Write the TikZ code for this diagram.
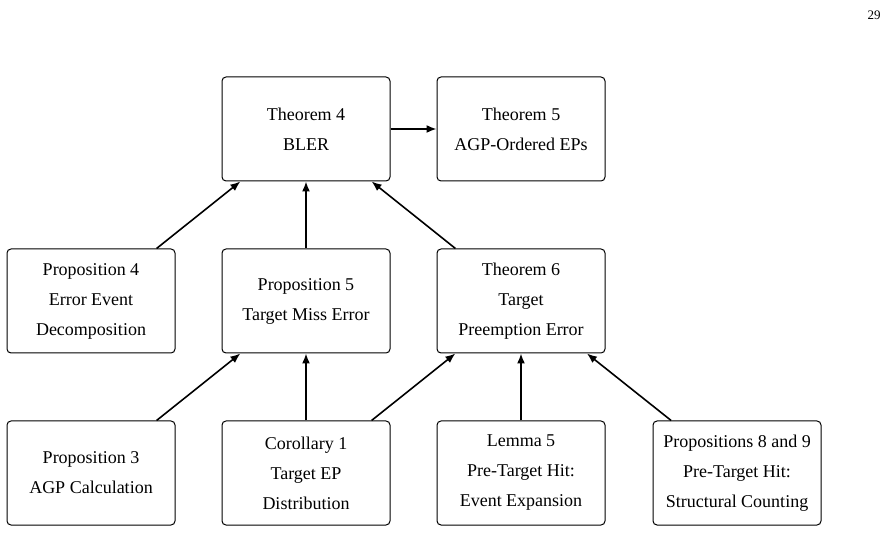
\documentclass[tikz,border=0pt]{standalone}
\usepackage{fontspec}
\setmainfont{Liberation Serif}
\usetikzlibrary{arrows.meta}
\begin{document}
\begin{tikzpicture}[x=0.5pt,y=-0.5pt,
  box/.style={draw, line width=0.5pt, rounded corners=2pt, minimum width=84pt, minimum height=52pt, align=center, inner sep=2pt, font=\fontsize{9}{15}\selectfont},
  conn/.style={-{Latex[length=5pt,width=4pt]}, line width=0.8pt}]
\useasboundingbox (0,0) rectangle (888,533);
\node[font=\fontsize{6.5}{8}\selectfont] (pg) at (874,15) {29};
\node[box] (t4) at (306,129) {Theorem 4\\BLER};
\node[box] (t5) at (521,129) {Theorem 5\\AGP-Ordered EPs};
\node[box] (p4) at (91,301) {Proposition 4\\Error Event\\Decomposition};
\node[box] (p5) at (306,301) {Proposition 5\\Target Miss Error};
\node[box] (t6) at (521,301) {Theorem 6\\Target\\Preemption Error};
\node[box] (p3) at (91,473) {Proposition 3\\AGP Calculation};
\node[box] (c1) at (306,473) {Corollary 1\\Target EP\\Distribution};
\node[box] (l5) at (521,473) {Lemma 5\\Pre-Target Hit:\\Event Expansion};
\node[box] (p89) at (737,473) {Propositions 8 and 9\\Pre-Target Hit:\\Structural Counting};
\draw[conn] (t4) -- (t5);
\draw[conn] (p4) -- (t4);
\draw[conn] (p5) -- (t4);
\draw[conn] (t6) -- (t4);
\draw[conn] (p3) -- (p5);
\draw[conn] (c1) -- (p5);
\draw[conn] (c1) -- (t6);
\draw[conn] (l5) -- (t6);
\draw[conn] (p89) -- (t6);
\end{tikzpicture}
\end{document}
